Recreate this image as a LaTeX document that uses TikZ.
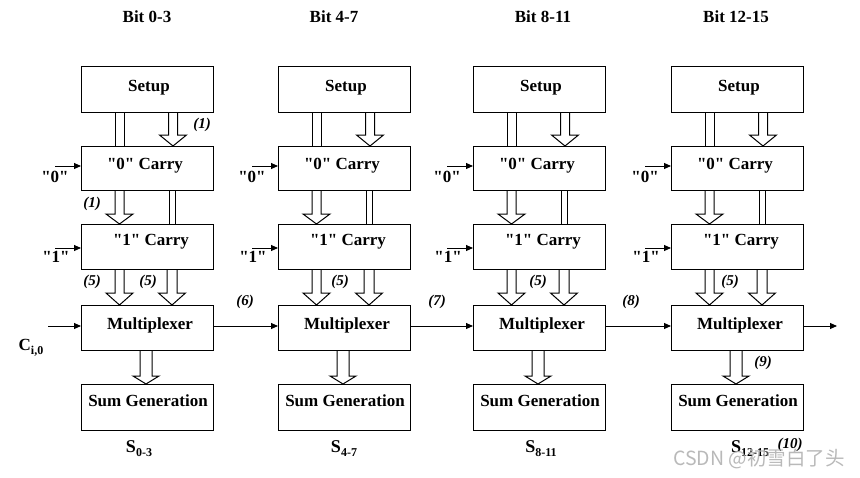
\documentclass[tikz,border=0pt]{standalone}
\usepackage{fontspec}
\setmainfont{Liberation Serif}
\newfontfamily\cjk{Noto Sans CJK SC}
\usetikzlibrary{arrows.meta,calc}
\newcommand\harrow[6]{\draw[hol] let \p1=(#1.south west), \p2=(#2.north west) in
 (\x1+#3pt-#4pt,\y1) -- (\x1+#3pt-#4pt,\y2+#6pt) -- (\x1+#3pt-#5pt,\y2+#6pt) -- (\x1+#3pt,\y2)
 -- (\x1+#3pt+#5pt,\y2+#6pt) -- (\x1+#3pt+#4pt,\y2+#6pt) -- (\x1+#3pt+#4pt,\y1);}
\newcommand\dline[3]{\draw[dbl] let \p1=(#1.south west), \p2=(#2.north west) in (\x1+#3pt,\y1) -- (\x1+#3pt,\y2);}
\newcommand\subtxt[1]{\raisebox{-4pt}{\fontsize{12}{12}\selectfont #1}}
\newcommand\qq[1]{\textquotedbl#1\textquotedbl}
\begin{document}
\begin{tikzpicture}[x=1pt,y=-1pt,
 box/.style={draw,line width=1pt,minimum width=132pt,inner sep=0pt,anchor=north west},
 txt/.style={font=\fontsize{17}{20}\selectfont\bfseries,inner sep=0pt},
 slbl/.style={font=\fontsize{18}{20}\selectfont\bfseries,inner sep=0pt},
 lbl/.style={font=\fontsize{15}{18}\selectfont\bfseries\itshape,inner sep=0pt},
 wire/.style={line width=0.9pt,-{Triangle[length=7pt,width=6pt]}},
 dbl/.style={line width=0.9pt},
 hol/.style={line width=1pt,line join=miter}]
\useasboundingbox (0,0) rectangle (860,477);
\fill[white] (0,0) rectangle (860,477);
% headers
\node[txt] (h1) at (147,17) {Bit 0-3};
\node[txt] (h2) at (334,17) {Bit 4-7};
\node[txt] (h3) at (543,17) {Bit 8-11};
\node[txt] (h4) at (736,17) {Bit 12-15};
\foreach \i/\x in {1/81,2/278,3/473,4/671}{
  \node[box,minimum height=46pt] (setup\i) at (\x,66) {};
  \node[box,minimum height=44pt] (zc\i) at (\x,146) {};
  \node[box,minimum height=45pt] (oc\i) at (\x,224) {};
  \node[box,minimum height=45pt] (mux\i) at (\x,305) {};
  \node[box,minimum height=46pt] (sum\i) at (\x,384) {};
  \node[txt] (tsetup\i) at ({\x+68},88) {Setup};
  \node[txt] (tzc\i) at ({\x+64},166) {\qq{0} Carry};
  \node[txt] (toc\i) at ({\x+70},242) {\qq{1} Carry};
  \node[txt] (tmux\i) at ({\x+69},325) {Multiplexer};
  \node[txt] (tsum\i) at ({\x+67},401) {Sum Generation};
  % setup -> 0 carry
  \dline{setup\i}{zc\i}{34}
  \dline{setup\i}{zc\i}{43}
  \harrow{setup\i}{zc\i}{92}{4.5}{13.5}{11}
  % 0 carry -> 1 carry
  \harrow{zc\i}{oc\i}{38.5}{4.5}{13.5}{10}
  \dline{zc\i}{oc\i}{88}
  \dline{zc\i}{oc\i}{94}
  % 1 carry -> mux
  \harrow{oc\i}{mux\i}{38.5}{4.5}{13.5}{12}
  \harrow{oc\i}{mux\i}{91}{5}{13.5}{12}
  % mux -> sum
  \harrow{mux\i}{sum\i}{65}{6}{13}{8}
  % inputs
  \coordinate (in0\i) at ({\x-26},166);
  \coordinate (in1\i) at ({\x-26},248);
  \draw[wire] (in0\i) -- (in0\i -| zc\i.west);
  \draw[wire] (in1\i) -- (in1\i -| oc\i.west);
  \node[txt] (l0\i) at ({\x-26},177) {\qq{0}};
  \node[txt] (l1\i) at ({\x-25},257) {\qq{1}};
}
% carry chain
\coordinate (cin) at (48,326);
\coordinate (cout) at (837,326);
\draw[wire] (cin) -- (cin -| mux1.west);
\draw[wire] (mux1.east |- cin) -- (cin -| mux2.west);
\draw[wire] (mux2.east |- cin) -- (cin -| mux3.west);
\draw[wire] (mux3.east |- cin) -- (cin -| mux4.west);
\draw[wire] (mux4.east |- cin) -- (cout);
\node[txt] (ci) at (31,348) {C\subtxt{i,0}};
% output labels
\node[slbl] (s1) at (139,449) {S\subtxt{0-3}};
\node[slbl] (s2) at (344,449) {S\subtxt{4-7}};
\node[slbl] (s3) at (541,449) {S\subtxt{8-11}};
\node[slbl] (s4) at (750,449) {S\subtxt{12-15}};
% numbered labels
\node[lbl] (n1a) at (202,125) {(1)};
\node[lbl] (n1b) at (92,204) {(1)};
\node[lbl] (n5a) at (92,282) {(5)};
\node[lbl] (n5b) at (148,282) {(5)};
\node[lbl] (n5c) at (340,282) {(5)};
\node[lbl] (n5d) at (538,282) {(5)};
\node[lbl] (n5e) at (730,282) {(5)};
\node[lbl] (n6) at (245,302) {(6)};
\node[lbl] (n7) at (437,302) {(7)};
\node[lbl] (n8) at (631,302) {(8)};
\node[lbl] (n9) at (763,363) {(9)};
\node[lbl] (n10) at (790,445) {(10)};
% watermark
\node[font=\cjk\fontsize{19.5}{22}\selectfont,text=gray!60,opacity=0.9,inner sep=0pt] (wm) at (759,459) {CSDN @初雪白了头};
\end{tikzpicture}
\end{document}
